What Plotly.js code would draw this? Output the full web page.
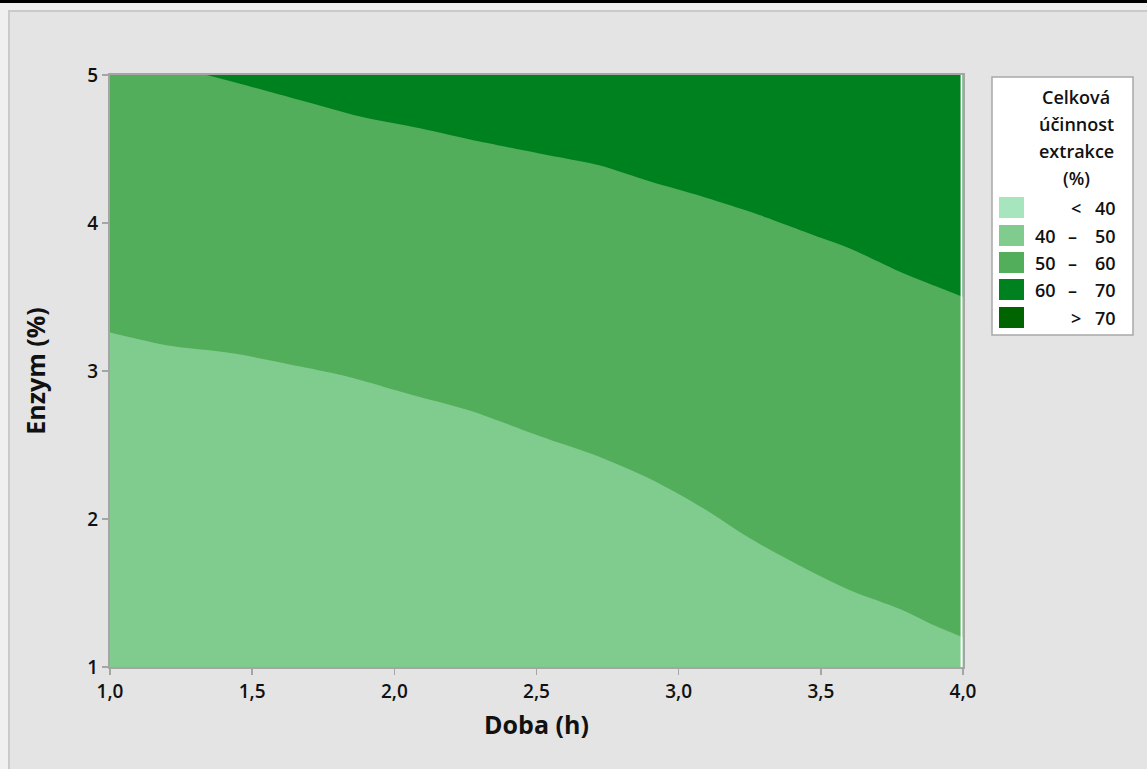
<!DOCTYPE html>
<html>
<head>
<meta charset="utf-8">
<script src="https://cdn.plot.ly/plotly-3.0.1.min.js"></script>
<style>
  html, body { margin: 0; padding: 0; background: #f0f0f0; width: 1147px; height: 769px; overflow: hidden; }
  #topbar { position: absolute; left: 0; top: 0; width: 1147px; height: 3px; background: #000; }
  #frame { position: absolute; left: 8px; top: 10px; width: 1139px; height: 759px; background: #e4e4e4;
           border-left: 2px solid #cacaca; border-top: 2px solid #cacaca; box-sizing: border-box; }
  #chart { position: absolute; left: 0; top: 0; width: 1147px; height: 769px; }
</style>
</head>
<body>
<div id="topbar"></div>
<div id="frame"></div>
<div id="chart"></div>
<script>
// Contour boundary at 50 % (between the 40–50 and 50–60 bands)
const doba50  = [1.00, 1.21, 1.43, 1.67, 1.84, 2.06, 2.27, 2.51, 2.72, 2.90, 3.08, 3.25, 3.43, 3.60, 3.78, 3.90, 4.00];
const enzym50 = [3.26, 3.17, 3.12, 3.03, 2.96, 2.84, 2.73, 2.56, 2.42, 2.27, 2.08, 1.87, 1.68, 1.52, 1.39, 1.28, 1.20];

// Contour boundary at 60 % (between the 50–60 and 60–70 bands)
const doba60  = [1.00, 1.34, 1.46, 1.67, 1.88, 2.09, 2.30, 2.51, 2.72, 2.90, 3.08, 3.29, 3.50, 3.60, 3.79, 3.92, 4.00];
const enzym60 = [5.15, 5.00, 4.94, 4.83, 4.72, 4.64, 4.55, 4.47, 4.39, 4.28, 4.18, 4.05, 3.90, 3.83, 3.66, 3.56, 3.50];

// Legend bands
const bandFrom   = ['', '40', '50', '60', ''];
const bandSign   = ['<', '–', '–', '–', '>'];
const bandTo     = ['40', '50', '60', '70', '70'];
const bandColors = ['#a7e5bf', '#80cc8e', '#53ae5b', '#00811f', '#006500'];

const xTicks = [1.0, 1.5, 2.0, 2.5, 3.0, 3.5, 4.0];
const yTicks = [1, 2, 3, 4, 5];

const FONT = 'Open Sans, Noto Sans, DejaVu Sans, sans-serif';

const traces = [
  { // area under the 60 % line -> 50–60 band (above it the plot background shows 60–70)
    type: 'scatter', mode: 'lines', x: doba60, y: enzym60,
    fill: 'tozeroy', fillcolor: bandColors[2],
    line: { width: 0, color: bandColors[2], shape: 'spline', smoothing: 0.8 },
    hoverinfo: 'skip', showlegend: false
  },
  { // area under the 50 % line -> 40–50 band
    type: 'scatter', mode: 'lines', x: doba50, y: enzym50,
    fill: 'tozeroy', fillcolor: bandColors[1],
    line: { width: 0, color: bandColors[1], shape: 'spline', smoothing: 0.8 },
    hoverinfo: 'skip', showlegend: false
  }
];

// Plot-area pixel geometry, used to place the hand-built legend
const W = 1147, H = 769, L = 110, R = 184, T = 75, B = 102;
const pw = W - L - R, ph = H - T - B;
const px = v => (v - L) / pw;
const py = v => (H - B - v) / ph;

const shapes = [
  { type: 'rect', xref: 'paper', yref: 'paper', x0: px(992), x1: px(1133), y0: py(335), y1: py(77),
    fillcolor: '#ffffff', line: { color: '#a8a8a8', width: 1.5 } },
  // thin white strip along the right edge of the filled area
  { type: 'line', xref: 'x', yref: 'paper', x0: 3.995, x1: 3.995, y0: 0, y1: 1, line: { color: '#ffffff', width: 2 } }
];

const annotations = [];
const LEGEND_FONT = { family: FONT, size: 18, color: '#111', weight: 600 };
const titleLines = ['Celková', 'účinnost', 'extrakce', '(%)'];
const titleY = [97, 124, 151, 178];
titleLines.forEach((t, i) => annotations.push({
  xref: 'paper', yref: 'paper', x: px(1076), y: py(titleY[i]), text: t, showarrow: false,
  xanchor: 'center', yanchor: 'middle', font: LEGEND_FONT
}));

const rowTop = [197, 225, 252, 279, 307];
bandColors.forEach((c, i) => {
  shapes.push({ type: 'rect', xref: 'paper', yref: 'paper', x0: px(999), x1: px(1024),
    y0: py(rowTop[i] + 21), y1: py(rowTop[i]), fillcolor: c, line: { width: 0 } });
  const yc = py(rowTop[i] + 10.5);
  if (bandFrom[i]) annotations.push({ xref: 'paper', yref: 'paper', x: px(1058), y: yc, text: bandFrom[i],
    showarrow: false, xanchor: 'right', yanchor: 'middle', font: LEGEND_FONT });
  annotations.push({ xref: 'paper', yref: 'paper', x: px(bandSign[i] === '–' ? 1072 : 1076), y: yc, text: bandSign[i],
    showarrow: false, xanchor: 'center', yanchor: 'middle', font: LEGEND_FONT });
  annotations.push({ xref: 'paper', yref: 'paper', x: px(1118), y: yc, text: bandTo[i],
    showarrow: false, xanchor: 'right', yanchor: 'middle', font: LEGEND_FONT });
});

const axisCommon = {
  showgrid: false, zeroline: false, showline: true, mirror: true,
  linecolor: '#a5a5a5', linewidth: 2, ticks: 'outside', ticklen: 6, tickwidth: 1.5, tickcolor: '#a5a5a5',
  tickfont: { family: FONT, size: 19, color: '#111', weight: 600 }
};

const layout = {
  width: W, height: H,
  margin: { l: L, r: R, t: T, b: B },
  paper_bgcolor: 'rgba(0,0,0,0)',
  plot_bgcolor: bandColors[3],
  separators: ',.',
  showlegend: false,
  xaxis: Object.assign({}, axisCommon, {
    range: [1, 4], tickvals: xTicks, tickformat: '.1f',
    title: { text: 'Doba (h)', standoff: 14, font: { family: FONT, size: 25, color: '#111', weight: 700 } }
  }),
  yaxis: Object.assign({}, axisCommon, {
    range: [1, 5], tickvals: yTicks, tickformat: 'd',
    title: { text: 'Enzym (%)', standoff: 35, font: { family: FONT, size: 25, color: '#111', weight: 700 } }
  }),
  shapes: shapes,
  annotations: annotations
};

Plotly.newPlot('chart', traces, layout, { displayModeBar: false, staticPlot: true });
</script>
</body>
</html>
